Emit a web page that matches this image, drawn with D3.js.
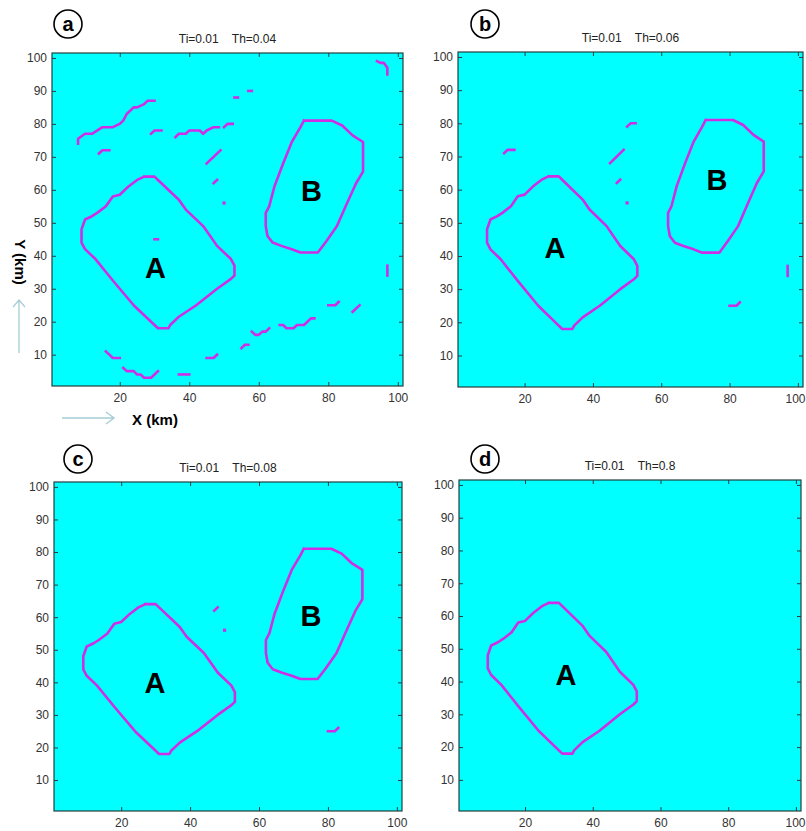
<!DOCTYPE html>
<html>
<head>
<meta charset="utf-8">
<script src="https://cdn.jsdelivr.net/npm/d3@7"></script>
<style>
  body { margin: 0; background: #ffffff; }
  svg text { font-family: "Liberation Sans", Arial, sans-serif; }
</style>
</head>
<body>
<svg id="fig" width="806" height="831"></svg>
<script>
// ---- data -------------------------------------------------------------
const xTicks = [20, 40, 60, 80, 100];
const yTicks = [10, 20, 30, 40, 50, 60, 70, 80, 90, 100];
const gridDomain = [0.5, 101.5];

const panelTags = ["a", "b", "c", "d"];
const panelTitles = ["Ti=0.01    Th=0.04", "Ti=0.01    Th=0.06", "Ti=0.01    Th=0.08", "Ti=0.01    Th=0.8"];

// closed boundary of anomaly A (km)
const regionA = [[27,64],[30,64],[31,63],[37,57],[39,54],[44,49],[48,43],[52,39],[53,37],[53,34],[52,33],
  [48,30],[42,25],[37,21.5],[34.5,19],[34,18],[31,18],[29,20],[24,25],[18,32.5],[13,39],[10,42],[9,44],
  [9,48],[10,51],[12,52],[13.5,53],[16,55],[18,58],[20,58.5],[22.5,61],[25,63],[27,64]];

// closed boundary of anomaly B (km)
const regionB = [[73,81],[81,81],[84,79.5],[87,76.5],[90,74.5],[90,72],[90,65.5],[88,62],[85,55],[82.5,49],
  [79.5,44.5],[77,41],[72,41],[69.5,42],[66.5,43],[64,44],[62.5,46],[62,49],[62,53],[63,55],[64.5,61],
  [67,68],[69.5,74.5],[72,79],[73,81]];

// which regions appear in each panel
const panelRegions = [["A","B"], ["A","B"], ["A","B"], ["A"]];

// spurious edge fragments per panel (single-point entries are isolated cells)
const fragmentsA = [
  [[8,74],[8,75.5],[10,77],[12,77],[15,79],[18,79],[20,80],[21,81],[22,83],[24,85],[25,85],[27,86],[28,87],[30,87]],
  [[14,71],[15,72],[17,72]],
  [[29,77],[30,78],[32,78]],
  [[36,76],[37,77],[39,77],[40,78],[43,78],[44,77],[45,78],[47,79],[48.5,79]],
  [[50,79],[51,80],[52.5,80]],
  [[53,88],[54,88]],
  [[57,90],[58,90]],
  [[45,68],[49,72]],
  [[47,62],[48,63]],
  [[50,56]],
  [[30,45],[31,45]],
  [[94,99],[95,98.5],[96,98.5],[97,97],[97,95]],
  [[97,34],[97,37]],
  [[16,11],[17,10],[18,9],[20,9]],
  [[21,6],[22,5],[24,5],[25,4],[26,4],[27,3],[29,3],[30,4],[31,5]],
  [[37,4],[40,4]],
  [[45,9],[47,9],[48,10]],
  [[55,12],[56,13],[57,13]],
  [[58,17],[59,16],[60,16],[61,17],[62,17],[63,18]],
  [[66,19],[67,19],[68,18],[70,18],[71,19],[73,19],[74,20],[75,21],[76,21]],
  [[80,25],[82,25],[83,26]],
  [[87,23],[89,25]]
];
const fragmentsB = [
  [[14,71],[15,72],[17,72]],
  [[50,79],[51,80],[52.5,80]],
  [[45,68],[49,72]],
  [[47,62],[48,63]],
  [[50,56]],
  [[97,34],[97,37]],
  [[80,25],[82,25],[83,26]]
];
const fragmentsC = [
  [[47,62],[48,63]],
  [[50,56]],
  [[80,25],[82,25],[83,26]]
];
const fragmentsD = [];
const panelFragments = [fragmentsA, fragmentsB, fragmentsC, fragmentsD];

// region letter positions (km) per panel
const labelA = [[30.3,36.4],[28.9,42.4],[29.8,39.8],[32.1,42.0]];
const labelB = [[75.2,59.7],[76.3,62.9],[75.1,60.4],null];

// ---- layout -----------------------------------------------------------
const frames = [
  {x0: 52,  x1: 403, y0: 53,  y1: 386, tag: [68, 24]},
  {x0: 458, x1: 803, y0: 52,  y1: 387, tag: [485, 24]},
  {x0: 54,  x1: 402, y0: 482, y1: 811, tag: [78, 459]},
  {x0: 459, x1: 801, y0: 480, y1: 811, tag: [485, 459]}
];

const BG = "#00ffff";
const EDGE = "#d02de6";
const FRAME = "#24403f";
const LINE_W = 2.6;
const svg = d3.select("#fig");

panelTags.forEach((tag, i) => {
  const f = frames[i];
  const x = d3.scaleLinear().domain(gridDomain).range([f.x0, f.x1]);
  const y = d3.scaleLinear().domain(gridDomain).range([f.y1, f.y0]);
  const g = svg.append("g");

  g.append("rect")
    .attr("x", f.x0).attr("y", f.y0)
    .attr("width", f.x1 - f.x0).attr("height", f.y1 - f.y0)
    .attr("fill", BG);

  const line = d3.line().x(d => x(d[0])).y(d => y(d[1]));
  const paths = [];
  if (panelRegions[i].includes("A")) paths.push(regionA);
  if (panelRegions[i].includes("B")) paths.push(regionB);
  panelFragments[i].filter(fr => fr.length > 1).forEach(fr => paths.push(fr));
  const cells = panelFragments[i].filter(fr => fr.length === 1).map(fr => fr[0]);

  g.append("g").selectAll("path").data(paths).join("path")
    .attr("d", line)
    .attr("fill", "none")
    .attr("stroke", EDGE)
    .attr("stroke-width", LINE_W)
    .attr("stroke-linejoin", "round")
    .attr("stroke-linecap", "square");

  g.append("g").selectAll("rect").data(cells).join("rect")
    .attr("x", d => x(d[0]) - LINE_W / 2 - 0.3)
    .attr("y", d => y(d[1]) - LINE_W / 2 - 0.3)
    .attr("width", LINE_W + 0.6).attr("height", LINE_W + 0.6)
    .attr("fill", EDGE);

  // region letters
  g.append("text")
    .attr("x", x(labelA[i][0])).attr("y", y(labelA[i][1]))
    .attr("text-anchor", "middle").attr("dominant-baseline", "central")
    .attr("font-size", 29).attr("font-weight", "bold").attr("fill", "#000")
    .text("A");
  if (labelB[i]) {
    g.append("text")
      .attr("x", x(labelB[i][0])).attr("y", y(labelB[i][1]))
      .attr("text-anchor", "middle").attr("dominant-baseline", "central")
      .attr("font-size", 29).attr("font-weight", "bold").attr("fill", "#000")
      .text("B");
  }

  // axes with inward ticks on all four sides
  const styleAxis = sel => {
    sel.select(".domain").remove();
    sel.selectAll(".tick line").attr("stroke", FRAME);
    sel.selectAll(".tick text").attr("fill", "#333").attr("font-size", 12)
      .attr("font-family", "'Liberation Sans', Arial, sans-serif");
  };
  const bottom = g.append("g").attr("transform", `translate(0,${f.y1})`)
    .call(d3.axisBottom(x).tickValues(xTicks).tickSizeInner(-4).tickSizeOuter(0).tickPadding(7))
    .call(styleAxis);
  // keep the last label inside the page on the right-hand panels
  bottom.selectAll(".tick text").each(function(d) {
    const px = x(d);
    if (px + 10 > 805) d3.select(this).attr("text-anchor", "end").attr("x", 805 - px);
  });
  g.append("g").attr("transform", `translate(${f.x0},0)`)
    .call(d3.axisLeft(y).tickValues(yTicks).tickSizeInner(-4).tickSizeOuter(0).tickPadding(5))
    .call(styleAxis);
  g.append("g").attr("transform", `translate(0,${f.y0})`)
    .call(d3.axisTop(x).tickValues(xTicks).tickSizeInner(-4).tickSizeOuter(0).tickFormat(""))
    .call(styleAxis);
  g.append("g").attr("transform", `translate(${f.x1},0)`)
    .call(d3.axisRight(y).tickValues(yTicks).tickSizeInner(-4).tickSizeOuter(0).tickFormat(""))
    .call(styleAxis);

  g.append("rect")
    .attr("x", f.x0).attr("y", f.y0)
    .attr("width", f.x1 - f.x0).attr("height", f.y1 - f.y0)
    .attr("fill", "none").attr("stroke", FRAME).attr("stroke-width", 1.2);

  // panel title
  g.append("text")
    .attr("x", (f.x0 + f.x1) / 2).attr("y", f.y0 - 10)
    .attr("text-anchor", "middle").attr("font-size", 12).attr("fill", "#222")
    .style("white-space", "pre")
    .text(panelTitles[i]);

  // circled panel tag
  g.append("circle")
    .attr("cx", f.tag[0]).attr("cy", f.tag[1]).attr("r", 14)
    .attr("fill", "#fff").attr("stroke", "#000").attr("stroke-width", 1.6);
  g.append("text")
    .attr("x", f.tag[0]).attr("y", f.tag[1])
    .attr("text-anchor", "middle").attr("dominant-baseline", "central")
    .attr("font-size", 20).attr("font-weight", "bold").attr("fill", "#000")
    .text(tag);
});

// axis titles with direction arrows (first panel)
const ARROW = "#a6cdd6";
svg.append("text")
  .attr("transform", "translate(20,262) rotate(90)")
  .attr("text-anchor", "middle").attr("dominant-baseline", "central")
  .attr("font-size", 15).attr("font-weight", "bold").attr("fill", "#000")
  .text("Y (km)");
svg.append("text")
  .attr("x", 155).attr("y", 419)
  .attr("text-anchor", "middle").attr("dominant-baseline", "central")
  .attr("font-size", 15).attr("font-weight", "bold").attr("fill", "#000")
  .text("X (km)");

const arrows = svg.append("g").attr("fill", "none").attr("stroke", ARROW).attr("stroke-width", 1.3);
arrows.append("path").attr("d", "M19,353 L19,300 M13,307 L19,300 L25,307");
arrows.append("path").attr("d", "M62,418 L114,418 M106,412 L114,418 L106,424");
</script>
</body>
</html>
